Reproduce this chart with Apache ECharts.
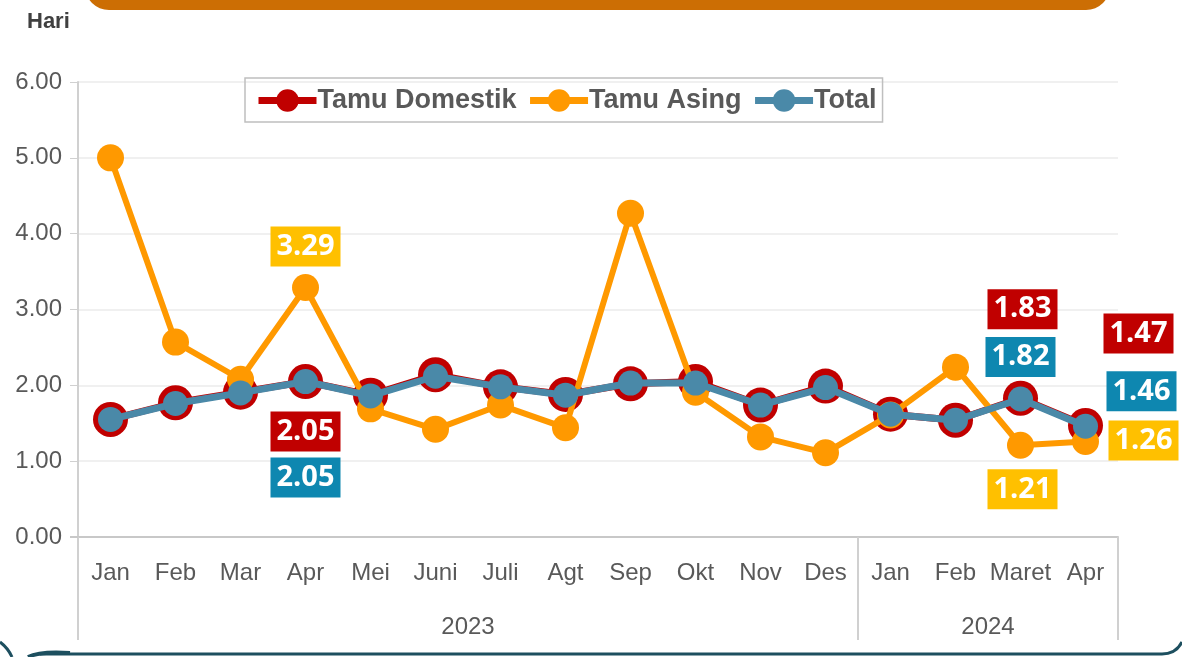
<!DOCTYPE html>
<html>
<head>
<meta charset="utf-8">
<script src="https://cdn.jsdelivr.net/npm/echarts@6/dist/echarts.min.js"></script>
<style>
  html, body { margin: 0; padding: 0; background: #fff; }
  #chart { width: 1182px; height: 657px; }
</style>
</head>
<body>
<div id="chart"></div>
<script>
// Rata-rata lama menginap (hari), Jan 2023 – Apr 2024
const months = ['Jan','Feb','Mar','Apr','Mei','Juni','Juli','Agt','Sep','Okt','Nov','Des','Jan','Feb','Maret','Apr'];
const years = ['2023', '2024'];
const yearSpans = [12, 4];
const yTicks = [0, 1, 2, 3, 4, 5, 6];

const domestik = [1.55, 1.77, 1.91, 2.05, 1.87, 2.14, 1.98, 1.88, 2.02, 2.05, 1.74, 1.99, 1.62, 1.54, 1.83, 1.47];
const asing    = [5.00, 2.57, 2.08, 3.29, 1.69, 1.42, 1.74, 1.44, 4.27, 1.91, 1.32, 1.11, 1.61, 2.24, 1.21, 1.26];
const total    = [1.55, 1.76, 1.90, 2.05, 1.86, 2.12, 1.98, 1.87, 2.03, 2.03, 1.74, 1.97, 1.62, 1.54, 1.82, 1.46];

const NARROW = '"Liberation Sans Narrow", "Arial Narrow", "Liberation Sans", sans-serif';
const LABEL_FONT = '"Open Sans", "Noto Sans", sans-serif';

// value badges: index -> offset from the point centre
const badgeDomestik = { 3: [0, 50], 14: [2, -89], 15: [53, -92] };
const badgeAsing    = { 3: [0, -41], 14: [2, 44], 15: [58, -1] };
const badgeTotal    = { 3: [0, 96], 14: [0, -42], 15: [56, -35] };

function withBadges(values, badges, bg) {
  return values.map((v, i) => {
    if (!badges[i]) return v;
    return {
      value: v,
      label: {
        show: true,
        position: 'inside',
        offset: badges[i],
        formatter: p => p.value.toFixed(2),
        color: '#fff',
        fontFamily: LABEL_FONT,
        fontWeight: 'bold',
        fontSize: 29,
        backgroundColor: bg,
        padding: [2, 6, 0, 6],
        lineHeight: 38
      }
    };
  });
}

const chart = echarts.init(document.getElementById('chart'), null, { renderer: 'canvas' });

const option = {
  animation: false,
  backgroundColor: '#fff',
  grid: { left: 78, right: 64, top: 82, bottom: 120, containLabel: false },
  legend: {
    top: 78,
    left: 245,
    itemGap: 10,
    itemWidth: 58,
    itemHeight: 28,
    padding: [9, 6, 8, 10],
    borderColor: '#BFBFBF',
    borderWidth: 1.5,
    lineStyle: { width: 7 },
    textStyle: { fontFamily: NARROW, fontWeight: 'bold', fontSize: 27, color: '#595959', padding: [0, 0, 0, -4] },
    data: ['Tamu Domestik', 'Tamu Asing', 'Total']
  },
  xAxis: {
    type: 'category',
    data: months,
    boundaryGap: true,
    axisLine: { lineStyle: { color: '#C8C8C8', width: 2 } },
    axisTick: { show: false },
    axisLabel: { fontFamily: NARROW, fontSize: 24, color: '#595959', margin: 24, interval: 0 }
  },
  yAxis: {
    type: 'value',
    min: yTicks[0],
    max: yTicks[yTicks.length - 1],
    interval: 1,
    axisLine: { show: true, lineStyle: { color: '#D0D0D0', width: 2 } },
    axisTick: { show: true, length: 8, lineStyle: { color: '#D0D0D0', width: 1 } },
    splitLine: { lineStyle: { color: '#EBEBEB', width: 1.5 } },
    axisLabel: { fontFamily: NARROW, fontSize: 24, color: '#595959', margin: 16, formatter: v => v.toFixed(2) }
  },
  series: [
    {
      name: 'Tamu Domestik', type: 'line',
      data: withBadges(domestik, badgeDomestik, '#C00000'),
      color: '#C00000',
      symbol: 'circle', symbolSize: 35,
      lineStyle: { width: 7, color: '#C00000' },
      itemStyle: { color: '#C00000' },
      z: 2
    },
    {
      name: 'Tamu Asing', type: 'line',
      data: withBadges(asing, badgeAsing, '#FFC000'),
      color: '#FF9900',
      symbol: 'circle', symbolSize: 27,
      lineStyle: { width: 6, color: '#FF9900' },
      itemStyle: { color: '#FF9900' },
      z: 3
    },
    {
      name: 'Total', type: 'line',
      data: withBadges(total, badgeTotal, '#0E87B0'),
      color: '#4A89A8',
      symbol: 'circle', symbolSize: 25,
      lineStyle: { width: 7, color: '#4A89A8' },
      itemStyle: { color: '#4A89A8' },
      z: 4
    }
  ],
  graphic: [
    {
      type: 'rect', left: 85, top: -40, z: 10,
      shape: { width: 1025, height: 50, r: 24 },
      style: { fill: '#CC6E04' }
    },
    {
      type: 'text', left: 27, top: 11, z: 10,
      style: { text: 'Hari', font: 'bold 22px ' + NARROW, fill: '#404040' }
    }
  ]
};

chart.setOption(option);

// category group dividers and year captions under the month labels
const extra = [];
const half = (chart.convertToPixel({ xAxisIndex: 0 }, 1) - chart.convertToPixel({ xAxisIndex: 0 }, 0)) / 2;
const y0 = chart.convertToPixel({ yAxisIndex: 0 }, 0);
let start = 0;
const edges = [chart.convertToPixel({ xAxisIndex: 0 }, 0) - half];
years.forEach((yr, k) => {
  const end = start + yearSpans[k] - 1;
  const xr = chart.convertToPixel({ xAxisIndex: 0 }, end) + half;
  const xl = chart.convertToPixel({ xAxisIndex: 0 }, start) - half;
  edges.push(xr);
  extra.push({
    type: 'text', z: 10,
    x: (xl + xr) / 2, y: y0 + 90,
    style: { text: yr, font: '24px ' + NARROW, fill: '#595959', textAlign: 'center', textVerticalAlign: 'middle' }
  });
  start = end + 1;
});
edges.forEach(x => {
  extra.push({
    type: 'line', z: 10,
    shape: { x1: x, y1: y0, x2: x, y2: y0 + 103 },
    style: { stroke: '#D0D0D0', lineWidth: 2 }
  });
});
// x-axis line continues left under the 0.00 tick
extra.push({
  type: 'line', z: 10,
  shape: { x1: edges[0] - 8, y1: y0, x2: edges[0], y2: y0 },
  style: { stroke: '#C8C8C8', lineWidth: 2 }
});
// dark frame edge along the bottom of the panel
extra.push({
  type: 'line', z: 10,
  shape: { x1: 40, y1: 654, x2: 1162, y2: 654 },
  style: { stroke: '#1D4F5F', lineWidth: 3 }
});
extra.push({
  type: 'bezierCurve', z: 10,
  shape: { x1: 1162, y1: 654, cpx1: 1176, cpy1: 654, x2: 1182, y2: 642 },
  style: { stroke: '#1D4F5F', lineWidth: 3, fill: null }
});
extra.push({
  type: 'bezierCurve', z: 10,
  shape: { x1: 0, y1: 642, cpx1: 8, cpy1: 648, x2: 12, y2: 657 },
  style: { stroke: '#1D4F5F', lineWidth: 3, fill: null }
});
extra.push({
  type: 'bezierCurve', z: 10,
  shape: { x1: 28, y1: 657, cpx1: 40, cpy1: 651, x2: 70, y2: 653 },
  style: { stroke: '#1D4F5F', lineWidth: 4, fill: null }
});
chart.setOption({ graphic: option.graphic.concat(extra) });
</script>
</body>
</html>
